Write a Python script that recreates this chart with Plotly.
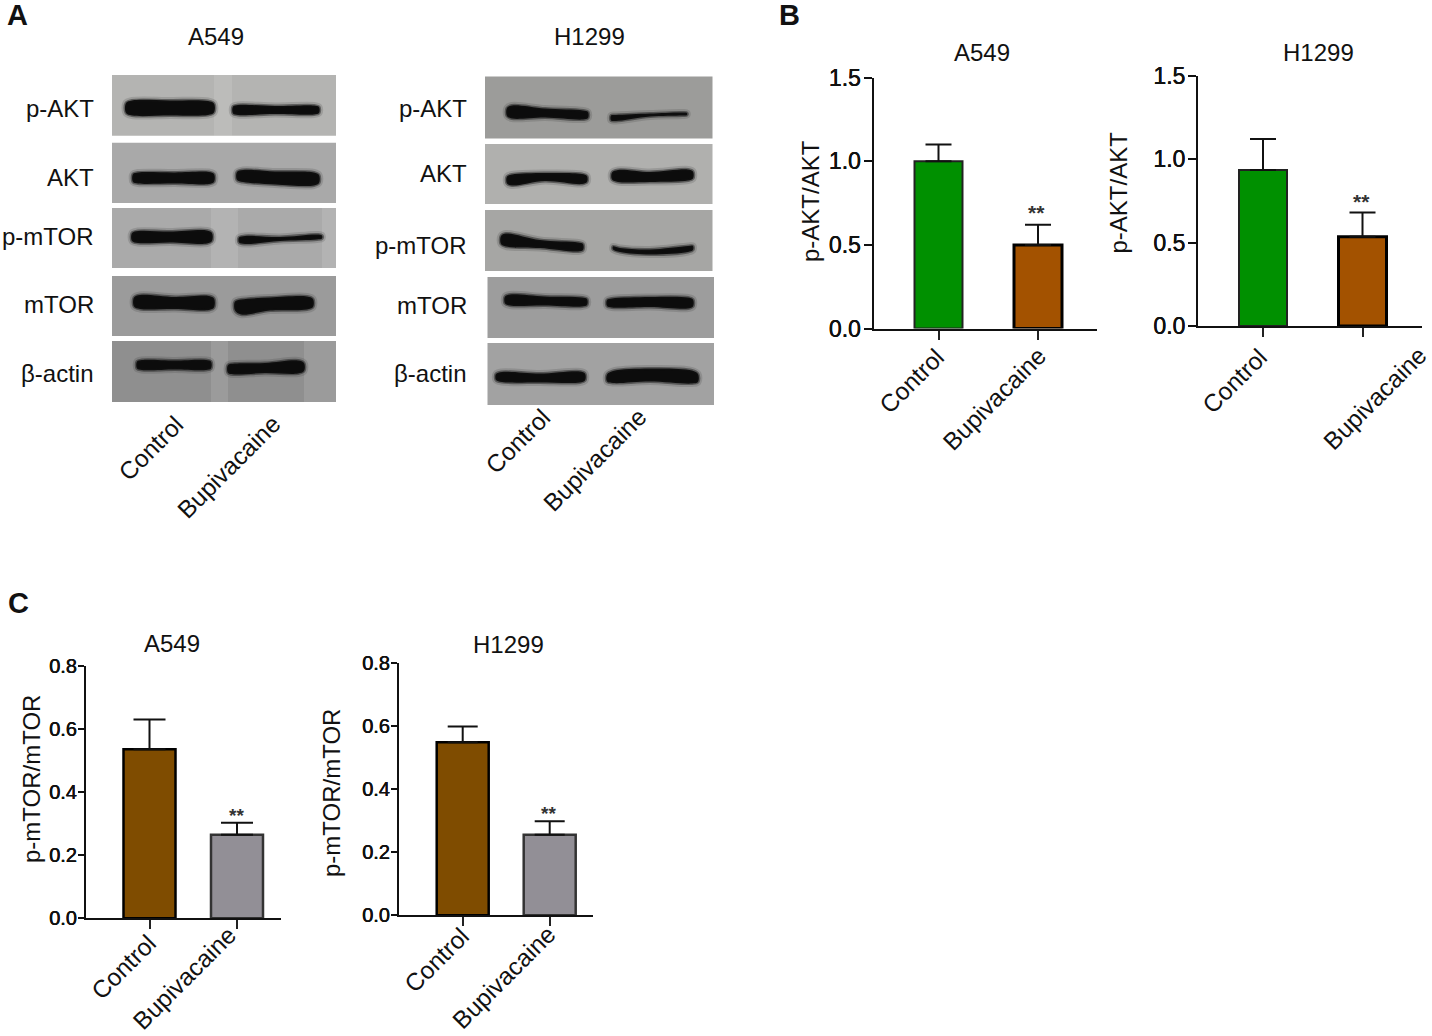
import plotly.graph_objects as go

W, H = 1432, 1036
FONT = "Liberation Sans"

# ---------- data ----------
groups = ["Control", "Bupivacaine"]
akt_a549_mean = [1.00, 0.50]
akt_a549_err = [0.10, 0.12]
akt_h1299_mean = [0.935, 0.535]
akt_h1299_err = [0.185, 0.145]
mtor_a549_mean = [0.535, 0.265]
mtor_a549_err = [0.095, 0.038]
mtor_h1299_mean = [0.548, 0.255]
mtor_h1299_err = [0.05, 0.043]
proteins = ["p-AKT", "AKT", "p-mTOR", "mTOR", "β-actin"]

# ---------- panel geometry in pixels ----------
panels = [
    dict(title="A549", ytitle="p-AKT/AKT", mean=akt_a549_mean, err=akt_a549_err, ymax=1.5, dtick=0.5,
         left=873.5, right=1097, top=77.7, base=328.5, c=(938.5, 1038), w=48, colors=("#009000", "#a35200"),
         lines=("#222222", "#000000"), lw=(2, 3), tf=23, cap=13, ticklen=8, standoff=-2,
         star=(21, -2, -1),
         title_xy=(982, 52), ytitle_xy=(810, 201), labels=((911, 381), (995, 399))),
    dict(title="H1299", ytitle="p-AKT/AKT", mean=akt_h1299_mean, err=akt_h1299_err, ymax=1.5, dtick=0.5,
         left=1198, right=1421.7, top=75.7, base=326, c=(1263, 1362.5), w=48, colors=("#009000", "#a35200"),
         lines=("#222222", "#000000"), lw=(2, 3), tf=23, cap=13, ticklen=8, standoff=-2,
         star=(21, -1, -2),
         title_xy=(1318, 52), ytitle_xy=(1118, 192.5), labels=((1234, 381), (1374.5, 398))),
    dict(title="A549", ytitle="p-mTOR/mTOR", mean=mtor_a549_mean, err=mtor_a549_err, ymax=0.8, dtick=0.2,
         left=86, right=280.7, top=665.7, base=918.3, c=(149.5, 237), w=52, colors=("#7f4c00", "#928f96"),
         lines=("#000000", "#333333"), lw=(2.5, 2.5), tf=20, cap=16, ticklen=6, standoff=-3,
         star=(19, -1, -5),
         title_xy=(172, 643), ytitle_xy=(31, 779), labels=((123, 967), (184, 978.5))),
    dict(title="H1299", ytitle="p-mTOR/mTOR", mean=mtor_h1299_mean, err=mtor_h1299_err, ymax=0.8, dtick=0.2,
         left=399, right=592.7, top=662.7, base=915.3, c=(462.7, 549.7), w=52, colors=("#7f4c00", "#928f96"),
         lines=("#000000", "#333333"), lw=(2.5, 2.5), tf=20, cap=15, ticklen=6, standoff=-3,
         star=(19, -1, -5),
         title_xy=(508, 644), ytitle_xy=(331, 793), labels=((436, 960), (503.5, 977))),
]

# ---------- blot geometry in pixels: one entry per membrane ----------
# box = x0, y0, x1, y1; strips = lighter vertical zones; bands = lists of (x, y, thickness)
blots = [
    dict(box=(112, 75, 336, 135.7), g="#b4b4b2", strips=[(214, 232)], bands=[
        [(126, 108, 10), (132, 108, 15), (170, 108, 15), (208, 108, 14), (214, 108, 9)],
        [(233, 110, 7), (238, 110, 10), (275, 110, 8), (314, 110, 9), (319, 110, 6)]]),
    dict(box=(112, 142.7, 336, 203), g="#a9a9a9", strips=[], bands=[
        [(133, 178, 8), (138, 178, 11), (175, 178, 11), (209, 178, 12), (214, 178, 8)],
        [(237, 176, 8), (243, 176, 12), (275, 178, 13), (314, 179, 13), (319, 179, 8)]]),
    dict(box=(112, 208, 336, 268), g="#aaaaaa", strips=[(211, 238), (322, 336)], bands=[
        [(132, 237, 8), (138, 237, 12), (170, 237, 11), (207, 237, 13), (212, 237, 8)],
        [(239, 240, 5), (245, 240, 8), (280, 239, 4), (317, 237, 5), (322, 237, 3)]]),
    dict(box=(112, 276, 336, 336), g="#9b9b9b", strips=[], bands=[
        [(134, 302, 9), (140, 302, 14), (175, 303, 12), (209, 303, 14), (214, 303, 9)],
        [(235, 306, 9), (241, 307, 15), (270, 304, 13), (307, 303, 13), (313, 303, 8)]]),
    dict(box=(112, 341, 336, 402), g="#8f8f8f", strips=[(211, 228), (304, 336)], bands=[
        [(137, 365, 7), (142, 365, 10), (175, 365, 9), (206, 365, 10), (211, 365, 7)],
        [(228, 369, 8), (235, 369, 11), (265, 368, 10), (298, 367, 13), (304, 367, 8)]]),
    dict(box=(485, 76.5, 712.5, 138.5), g="#9c9c9a", strips=[], bands=[
        [(507, 112, 8), (512, 112, 13), (545, 113, 9), (583, 115, 9), (588, 115, 6)],
        [(611, 118, 5), (616, 118, 6), (650, 115, 3), (682, 114, 3), (687, 114, 2)]]),
    dict(box=(485, 144, 712.5, 204), g="#b0b0ae", strips=[], bands=[
        [(507, 180, 7), (512, 180, 11), (545, 177, 8), (582, 179, 10), (587, 179, 6)],
        [(612, 176, 7), (618, 176, 12), (650, 177, 10), (688, 175, 11), (693, 175, 7)]]),
    dict(box=(485, 210, 712.5, 271), g="#a6a6a4", strips=[], bands=[
        [(501, 240, 8), (506, 240, 13), (540, 244, 8), (578, 247, 9), (583, 247, 6)],
        [(613, 248, 3), (620, 250, 4), (650, 252, 5), (688, 249, 6), (693, 248, 4)]]),
    dict(box=(487.5, 277, 714, 338), g="#9d9d9d", strips=[], bands=[
        [(505, 300, 7), (510, 300, 11), (545, 301, 9), (582, 302, 9), (587, 302, 6)],
        [(607, 303, 6), (612, 303, 9), (650, 302, 10), (688, 303, 11), (693, 303, 7)]]),
    dict(box=(487.5, 343, 714, 405), g="#a2a2a2", strips=[], bands=[
        [(496, 377, 6), (502, 377, 10), (540, 378, 9), (580, 377, 11), (585, 377, 7)],
        [(607, 378, 7), (613, 377, 12), (650, 375, 13), (692, 377, 13), (698, 378, 8)]]),
]

blot_titles = [("A549", 216, 36), ("H1299", 589, 36)]
blot_rows = [(95.5, [109, 177, 237, 304, 373]), (469, [108, 173, 245, 305, 373])]
blot_groups = [((151, 449), (228, 467)), ((518, 442), (594, 460))]
letters = [("A", 17, 15), ("B", 789, 15), ("C", 18, 603)]


def px(x):
    return x / W


def py(y):
    return 1 - y / H


fig = go.Figure()
annotations = []
shapes = []


def note(text, x, y, size=24, angle=0, xanchor="center", bold=False):
    annotations.append(dict(
        text=f"<b>{text}</b>" if bold else text, x=px(x), y=py(y), xref="paper", yref="paper",
        xanchor=xanchor, yanchor="middle", showarrow=False, textangle=angle,
        font=dict(family=FONT, size=size, color="#111111")))


layout_axes = {}
for i, p in enumerate(panels):
    n = i + 1
    sfx = "" if n == 1 else str(n)
    c0, c1 = p["c"]
    step = c1 - c0
    layout_axes[f"xaxis{sfx}"] = dict(
        domain=[px(p["left"]), px(p["right"])], anchor=f"y{sfx}", type="category",
        range=[(p["left"] - c0) / step, (p["right"] - c0) / step],
        categoryorder="array", categoryarray=groups, tickmode="array", tickvals=groups,
        showticklabels=False, ticks="outside", ticklen=9, tickwidth=2, tickcolor="#222222",
        showline=True, linewidth=2, linecolor="#111111", showgrid=False, zeroline=False, fixedrange=True)
    layout_axes[f"yaxis{sfx}"] = dict(
        domain=[py(p["base"]), py(p["top"])], anchor=f"x{sfx}", range=[0, p["ymax"]],
        dtick=p["dtick"], tick0=0, tickformat=".1f", ticks="outside", ticklen=p["ticklen"], tickwidth=2,
        ticklabelstandoff=p["standoff"],
        tickcolor="#111111", showline=True, linewidth=2, linecolor="#111111", showgrid=False, zeroline=False,
        tickfont=dict(family=FONT, size=p["tf"], color="#111111",
                      shadow="0.2px 0 0 #111111, -0.2px 0 0 #111111"),
        fixedrange=True)
    fig.add_trace(go.Bar(
        x=groups, y=p["mean"], width=p["w"] / step, xaxis=f"x{sfx}", yaxis=f"y{sfx}",
        marker=dict(color=list(p["colors"]), line=dict(color=list(p["lines"]), width=list(p["lw"]))),
        error_y=dict(type="data", symmetric=False, array=p["err"], arrayminus=[0, 0],
                     color="#111111", thickness=2, width=p["cap"]),
        showlegend=False))
    note(p["title"], *p["title_xy"])
    note(p["ytitle"], *p["ytitle_xy"], angle=-90)
    for g, (lx, ly) in zip(groups, p["labels"]):
        note(g, lx, ly, size=24.5, angle=-45)
    s_size, s_dx, s_dy = p["star"]
    annotations.append(dict(
        text="<b>**</b>", x=groups[1], y=p["mean"][1] + p["err"][1], xref=f"x{sfx}", yref=f"y{sfx}",
        xanchor="center", yanchor="bottom", xshift=s_dx, yshift=s_dy, showarrow=False,
        font=dict(family=FONT, size=s_size, color="#333333")))

# pixel-space overlay for the blot membranes
layout_axes["xaxis9"] = dict(domain=[0, 1], range=[0, W], visible=False, anchor="y9", fixedrange=True)
layout_axes["yaxis9"] = dict(domain=[0, 1], range=[H, 0], visible=False, anchor="x9", fixedrange=True)

for b in blots:
    x0, y0, x1, y1 = b["box"]
    shapes.append(dict(type="rect", xref="x9", yref="y9", x0=x0, x1=x1, y0=y0, y1=y1,
                       fillcolor=b["g"], line=dict(width=0), layer="below"))
    for s0, s1 in b["strips"]:
        shapes.append(dict(type="rect", xref="x9", yref="y9", x0=s0, x1=s1, y0=y0, y1=y1,
                           fillcolor="rgba(255,255,255,0.11)", line=dict(width=0), layer="below"))
    for band in b["bands"]:
        xs = [q[0] for q in band] + [q[0] for q in reversed(band)]
        ys = [q[1] - q[2] / 2 for q in band] + [q[1] + q[2] / 2 for q in reversed(band)]
        xs.append(xs[0])
        ys.append(ys[0])
        # soft halo under the band, imitating the blur of the scanned film
        fig.add_trace(go.Scatter(
            x=xs, y=ys, mode="lines", xaxis="x9", yaxis="y9",
            line=dict(color="rgba(40,40,40,0.16)", width=7, shape="spline", smoothing=1),
            showlegend=False, hoverinfo="skip"))
        fig.add_trace(go.Scatter(
            x=xs, y=ys, mode="lines", xaxis="x9", yaxis="y9", fill="toself", fillcolor="#0c0c0c",
            line=dict(color="rgba(20,20,20,0.45)", width=3, shape="spline", smoothing=1),
            showlegend=False, hoverinfo="skip"))

for t, x, y in blot_titles:
    note(t, x, y)
for (rx, ys) in blot_rows:
    for name, y in zip(proteins, ys):
        note(name, rx, y, xanchor="right")
for pair in blot_groups:
    for g, (x, y) in zip(groups, pair):
        note(g, x, y, size=24.5, angle=-45)
for t, x, y in letters:
    note(t, x, y, size=29, bold=True)

fig.update_layout(
    width=W, height=H, autosize=False, margin=dict(l=0, r=0, t=0, b=0, autoexpand=False),
    paper_bgcolor="white", plot_bgcolor="rgba(0,0,0,0)", showlegend=False,
    annotations=annotations, shapes=shapes, **layout_axes)

fig.write_html("out.html", config={"displayModeBar": False},
               post_script="document.body.style.margin='0';")
